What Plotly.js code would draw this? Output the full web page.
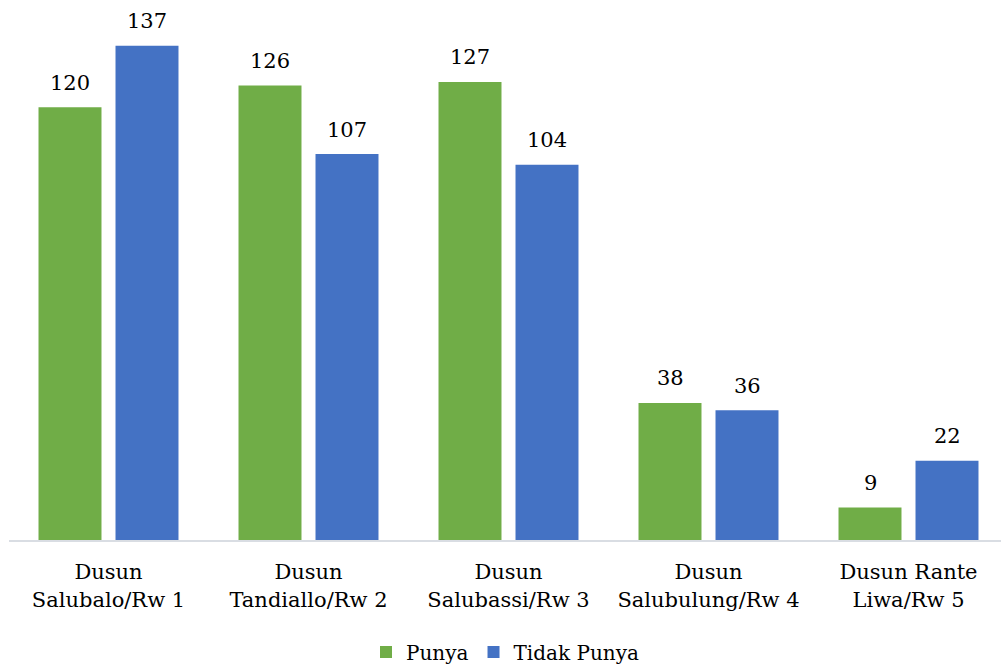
<!DOCTYPE html>
<html>
<head>
<meta charset="utf-8">
<script src="https://cdn.plot.ly/plotly-3.0.1.min.js"></script>
<style>html,body{margin:0;padding:0;background:#fff;}#chart{width:1001px;height:666px;}</style>
</head>
<body>
<div id="chart"></div>
<script>
const categories = [
  "Dusun<br>Salubalo/Rw 1",
  "Dusun<br>Tandiallo/Rw 2",
  "Dusun<br>Salubassi/Rw 3",
  "Dusun<br>Salubulung/Rw 4",
  "Dusun Rante<br>Liwa/Rw 5"
];
const punya = [120, 126, 127, 38, 9];
const tidakPunya = [137, 107, 104, 36, 22];

const fontFamily = "DejaVu Serif, serif";

const traces = [
  {type: "bar", name: "Punya", x: categories, y: punya, marker: {color: "#70AD47"}},
  {type: "bar", name: "Tidak Punya", x: categories, y: tidakPunya, marker: {color: "#4472C4"}}
];

const annotations = [];
categories.forEach((c, i) => {
  annotations.push({x: c, y: punya[i], text: String(punya[i]), showarrow: false,
    xshift: -38.5, yshift: 10.5, yanchor: "bottom", font: {family: fontFamily, size: 21, color: "#000"}});
  annotations.push({x: c, y: tidakPunya[i], text: String(tidakPunya[i]), showarrow: false,
    xshift: 38.5, yshift: 10.5, yanchor: "bottom", font: {family: fontFamily, size: 21, color: "#000"}});
});

const layout = {
  width: 1001, height: 666,
  margin: {l: 9, r: 0, t: 35, b: 126},
  paper_bgcolor: "#fff", plot_bgcolor: "#fff",
  barmode: "group", bargap: 0.23, bargroupgap: 0.182,
  font: {family: fontFamily, size: 20, color: "#000"},
  annotations: annotations,
  xaxis: {
    type: "category", range: [-0.4975, 4.4625], automargin: false,
    showline: true, linecolor: "#d9dde3", linewidth: 2,
    showgrid: false, ticks: "", zeroline: false, ticklabelstandoff: 12,
    tickfont: {family: fontFamily, size: 21, color: "#000"}
  },
  yaxis: {
    range: [0, 140], visible: false, showgrid: false, zeroline: false
  },
  showlegend: true,
  legend: {
    orientation: "h", x: 0.5, xanchor: "center",
    yref: "container", y: 0.021, yanchor: "middle",
    font: {family: fontFamily, size: 20, color: "#000"}
  }
};

Plotly.newPlot("chart", traces, layout, {displayModeBar: false, staticPlot: true});
</script>
</body>
</html>
